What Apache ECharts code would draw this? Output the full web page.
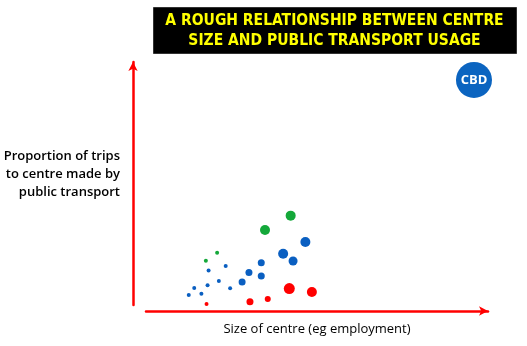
<!DOCTYPE html>
<html>
<head>
<meta charset="utf-8">
<script src="https://cdn.jsdelivr.net/npm/echarts@6/dist/echarts.min.js"></script>
<style>html,body{margin:0;padding:0;background:#fff}#c{width:527px;height:346px}</style>
</head>
<body>
<div id="c"></div>
<script>
// [size of centre, share of trips by public transport, marker size]
const greenPts = [[42.3,38.3,10],[34.8,32.5,10],[20.8,23.4,4],[17.5,20.2,4]];
const bluePts = [[46.6,27.7,10],[40.1,23.0,10],[43.0,20.1,9],[33.7,19.4,7],[30.1,15.5,7],[33.7,14.1,7],[28.1,11.6,7],
  [18.3,16.3,4],[23.3,18.1,4],[21.3,12.0,4],[18.0,10.3,4],[24.6,9.1,4],[14.1,9.2,4],[16.2,6.9,4],[12.5,6.4,4]];
const redPts = [[41.9,9.0,11],[48.5,7.6,10],[35.6,4.8,6],[30.4,3.7,7],[17.7,2.8,4]];
const cbdPt = [[95.9,92.8,36]];
const titleLines = ['A ROUGH RELATIONSHIP BETWEEN CENTRE','SIZE AND PUBLIC TRANSPORT USAGE'];
const xName = 'Size of centre (eg employment)';
const yName = 'Proportion of trips\nto centre made by\npublic transport';

const chart = echarts.init(document.getElementById('c'));
const sc = (name, data, color) => ({
  type:'scatter', name, data, xAxisIndex:0, yAxisIndex:0,
  symbolSize: d => d[2], itemStyle:{color, opacity:1}, silent:true
});
chart.setOption({
  animation:false,
  grid:[
    {left:146, right:39, top:62, bottom:35},
    {left:133, right:39, top:62, bottom:41}
  ],
  xAxis:[
    {gridIndex:0, type:'value', min:0, max:100, splitLine:{show:false}, axisTick:{show:false}, axisLabel:{show:false},
     axisLine:{show:true, lineStyle:{color:'#ff0000', width:2.5}, symbol:['none','arrow'], symbolSize:[7,9]},
     name:xName, nameLocation:'middle', nameGap:12,
     nameTextStyle:{fontFamily:'Open Sans', fontSize:13, color:'#000'}},
    {gridIndex:1, type:'value', min:0, max:100, show:false}
  ],
  yAxis:[
    {gridIndex:0, type:'value', min:0, max:100, show:false},
    {gridIndex:1, type:'value', min:0, max:100, splitLine:{show:false}, axisTick:{show:false}, axisLabel:{show:false},
     axisLine:{show:true, lineStyle:{color:'#ff0000', width:2.5}, symbol:['none','arrow'], symbolSize:[7,9]}}
  ],
  graphic:[
    {type:'rect', left:153, top:7, shape:{width:363, height:46}, style:{fill:'#000', stroke:'#333', lineWidth:1}},
    {type:'text', x:334.5, y:31, style:{text:titleLines.join('\n'), fill:'#ffff00', font:'bold 15.5px "Liberation Sans Narrow", "DejaVu Sans Condensed", Arial', align:'center', verticalAlign:'middle', lineHeight:20}},
    {type:'text', x:120, y:174, style:{text:yName, fill:'#000', font:'600 13px "Open Sans"', align:'right', verticalAlign:'middle', lineHeight:18}}
  ],
  series:[
    sc('green', greenPts, '#14a83a'),
    sc('blue', bluePts, '#0a5fc1'),
    sc('red', redPts, '#ff0000'),
    Object.assign(sc('cbd', cbdPt, '#0b64c0'), {label:{show:true, position:'inside', formatter:'CBD', color:'#fff', fontWeight:'bold', fontSize:13, fontFamily:'Open Sans'}})
  ]
});
</script>
</body>
</html>
